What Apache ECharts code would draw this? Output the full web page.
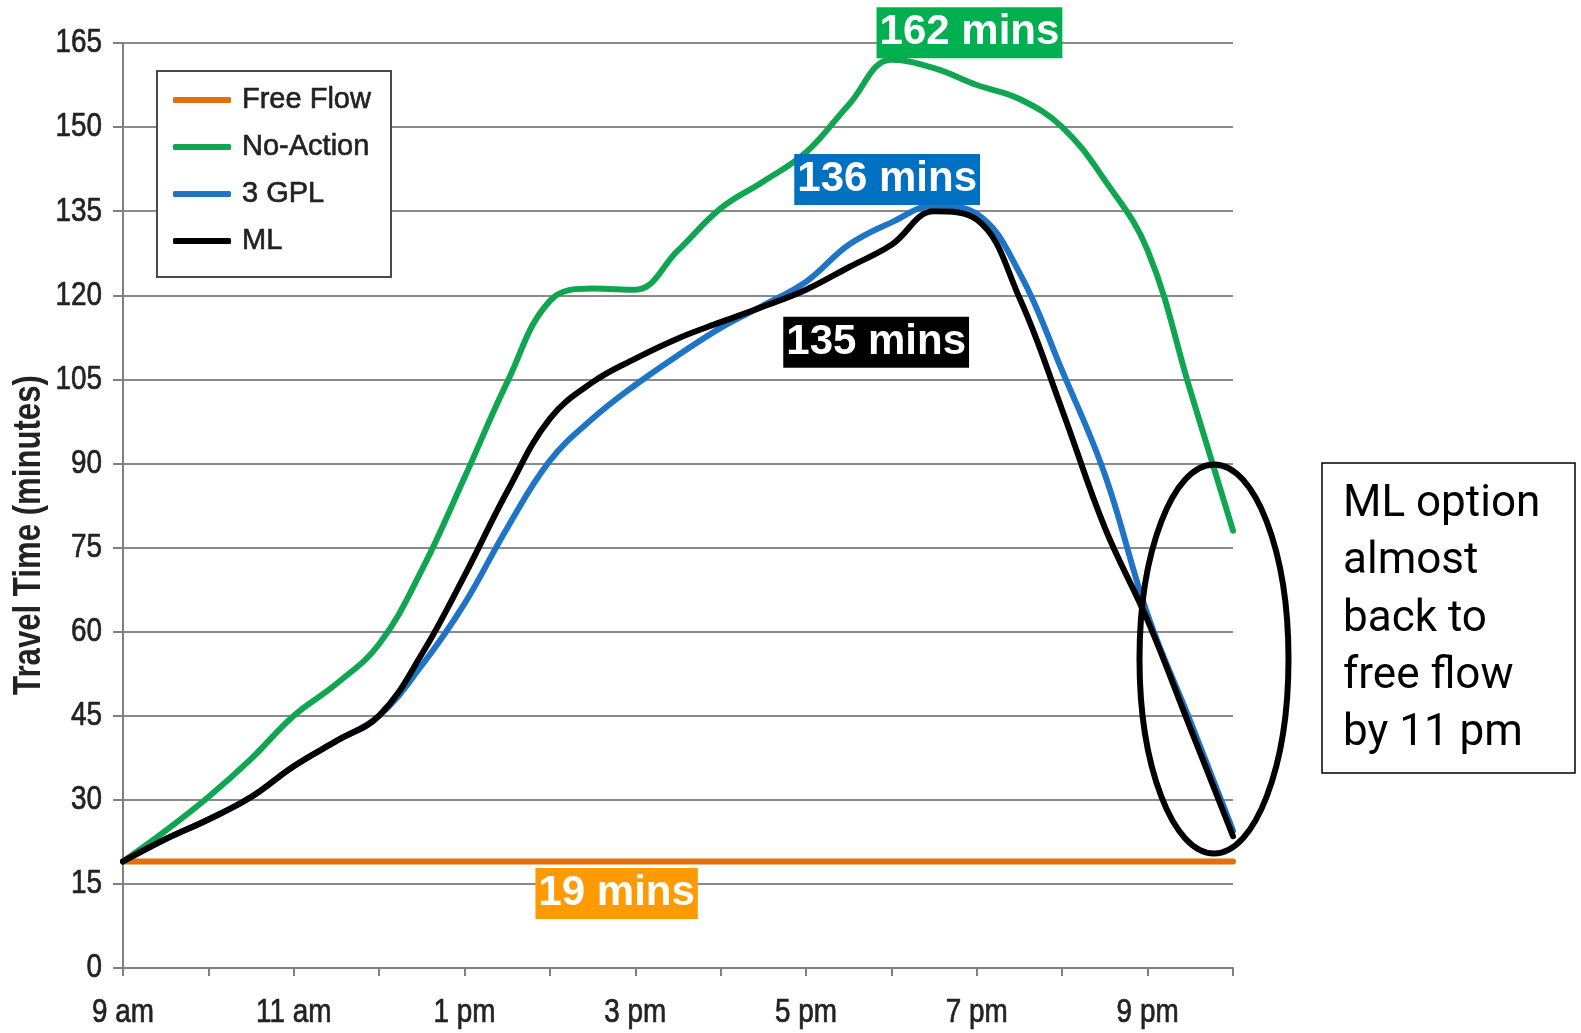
<!DOCTYPE html>
<html>
<head>
<meta charset="utf-8">
<title>Travel Time</title>
<script src="https://cdn.jsdelivr.net/npm/echarts@6/dist/echarts.min.js"></script>
<style>
  html, body { margin: 0; padding: 0; background: #fff; }
  #chart { width: 1581px; height: 1033px; }
</style>
</head>
<body>
<div id="chart"></div>
<script>
// Time of day in hours (9 = 9 am, 22 = 10 pm), sampled every half hour
const times = [9, 9.5, 10, 10.5, 11, 11.5, 12, 12.5, 13, 13.5, 14, 14.5, 15, 15.5,
               16, 16.5, 17, 17.5, 18, 18.5, 19, 19.5, 20, 20.5, 21, 21.5, 22];

// Travel time in minutes for each scenario
const noAction = [19, 24.5, 30.5, 37.3, 45, 50.7, 57.8, 71, 87.5, 104.5, 119, 121.2, 121, 128,
                  135.5, 140.3, 145.5, 154, 162, 160.5, 157.5, 155, 150, 140.5, 128, 103, 78];
const gpl3     = [19, 23, 26.5, 30.5, 36, 40.5, 45, 54, 65, 78.5, 90.5, 98, 104, 109.3,
                  114.2, 118.2, 122.4, 129, 133, 136, 134.5, 124, 106.5, 88, 63, 44, 24.5];
const ml       = [19, 23, 26.5, 30.5, 36, 40.5, 45, 56, 70, 85, 98, 104.5, 108.7, 112.3,
                  115.2, 118, 121, 125, 129, 135, 133.5, 119.5, 99.5, 78.5, 62, 42.8, 23.5];
const freeFlowTimes = [9, 22];
const freeFlow      = [19, 19];

// Axis tick labels
const yTickValues = [0, 15, 30, 45, 60, 75, 90, 105, 120, 135, 150, 165];
const tickHours   = [9, 11, 13, 15, 17, 19, 21];
const tickLabels  = ['9 am', '11 am', '1 pm', '3 pm', '5 pm', '7 pm', '9 pm'];

const seriesNames = ['Free Flow', 'No-Action', '3 GPL', 'ML'];
const noteLines = ['ML option', 'almost', 'back to', 'free flow', 'by 11 pm'];

const SANS = "'Liberation Sans', Arial, sans-serif";
const CONDENSE = 0.82;   // horizontal squeeze for the condensed axis lettering

function pairs(t, v) { return t.map((x, i) => [x, v[i]]); }
function peak(t, v) {
  const i = v.indexOf(Math.max.apply(null, v));
  return [t[i], v[i]];
}
function valueTag(coord, bg, offset) {
  return {
    symbol: 'rect',
    symbolSize: 0,
    silent: true,
    data: [{ coord: coord, value: coord[1] }],
    label: {
      show: true,
      position: 'inside',
      offset: offset,
      formatter: p => p.value + ' mins',
      color: '#fff',
      backgroundColor: bg,
      fontFamily: SANS,
      fontWeight: 'bold',
      fontSize: 42,
      lineHeight: 45,
      padding: [3, 3, 3, 3]
    }
  };
}

function lineSeries(name, data, color, z, tag) {
  return {
    name: name,
    type: 'line',
    data: data,
    smooth: 0.4,
    showSymbol: false,
    symbol: 'none',
    z: z,
    lineStyle: { color: color, width: 6, cap: 'round' },
    itemStyle: { color: color },
    emphasis: { disabled: true },
    markPoint: tag
  };
}

const chart = echarts.init(document.getElementById('chart'));

chart.setOption({
  animation: false,
  backgroundColor: '#fff',
  grid: { left: 123, right: 348, top: 43, bottom: 65 },
  legend: {
    orient: 'vertical',
    left: 173,
    top: 83,
    padding: 0,
    itemWidth: 58,
    itemHeight: 6,
    itemGap: 13,
    icon: 'roundRect',
    data: seriesNames,
    z: 5,
    textStyle: { fontFamily: SANS, fontSize: 29, lineHeight: 34, color: '#222',
                 padding: [0, 0, 0, 6], textBorderColor: '#222', textBorderWidth: 0.6 }
  },
  xAxis: {
    type: 'value',
    min: 9,
    max: 22,
    interval: 1,
    axisLine: { lineStyle: { color: '#808080', width: 2 } },
    axisTick: { show: true, length: 8, lineStyle: { color: '#808080', width: 2 } },
    splitLine: { show: false },
    axisLabel: { show: false }
  },
  yAxis: {
    type: 'value',
    min: 0,
    max: 165,
    interval: 15,
    axisLine: { show: true, lineStyle: { color: '#808080', width: 2 } },
    axisTick: { show: true, length: 10, lineStyle: { color: '#808080', width: 2 } },
    splitLine: { lineStyle: { color: '#8a8a8a', width: 2 } },
    axisLabel: { show: false }
  },
  series: [
    lineSeries('Free Flow', pairs(freeFlowTimes, freeFlow), '#E2700F', 2,
      valueTag([14.5, freeFlow[0]], '#FF9A00', [24, 32])),
    lineSeries('No-Action', pairs(times, noAction), '#10A550', 3,
      valueTag(peak(times, noAction), '#00B050', [78, -27])),
    lineSeries('3 GPL', pairs(times, gpl3), '#1F74C6', 4,
      valueTag(peak(times, gpl3), '#0070C0', [-47, -26])),
    lineSeries('ML', pairs(times, ml), '#000000', 5,
      valueTag(peak(times, ml), '#000000', [-58, 131]))
  ]
});

// Condensed tick labels, placed through the axes' own scales
const x0 = chart.convertToPixel({ xAxisIndex: 0 }, 9);
const yBase = chart.convertToPixel({ yAxisIndex: 0 }, 0);
const tickStyle = { fontFamily: SANS, fontSize: 34, fill: '#222', stroke: '#222', lineWidth: 0.7 };
const tickText = [];
yTickValues.forEach(v => {
  tickText.push({
    type: 'text', z: 3, silent: true, x: x0 - 21, y: chart.convertToPixel({ yAxisIndex: 0 }, v),
    scaleX: CONDENSE,
    style: Object.assign({ text: String(v), align: 'right', verticalAlign: 'middle' }, tickStyle)
  });
});
tickHours.forEach((h, i) => {
  tickText.push({
    type: 'text', z: 3, silent: true, x: chart.convertToPixel({ xAxisIndex: 0 }, h), y: yBase + 45,
    scaleX: CONDENSE,
    style: Object.assign({ text: tickLabels[i], align: 'center', verticalAlign: 'middle' }, tickStyle)
  });
});

chart.setOption({
  graphic: [
    // legend frame
    { type: 'rect', z: 3, silent: true,
      shape: { x: 157, y: 71, width: 234, height: 206 },
      style: { fill: '#fff', stroke: '#4a4a4a', lineWidth: 2 } },
    // axis title
    { type: 'text', z: 3, silent: true, x: 30, y: 535, rotation: Math.PI / 2, scaleX: CONDENSE,
      style: { text: 'Travel Time (minutes)', fontFamily: SANS, fontWeight: 'bold', fontSize: 38,
               fill: '#222', align: 'center', verticalAlign: 'middle' } },
    // circled end of the evening peak
    { type: 'ellipse', z: 10, silent: true,
      shape: { cx: 1214, cy: 659, rx: 74.5, ry: 194.5 },
      style: { fill: 'none', stroke: '#000', lineWidth: 6 } },
    // note box
    { type: 'rect', z: 3, silent: true,
      shape: { x: 1322, y: 463, width: 253, height: 310 },
      style: { fill: '#fff', stroke: '#000', lineWidth: 1.5 } }
  ].concat(noteLines.map((t, i) => ({
    type: 'text', z: 4, silent: true, x: 1343, y: 505 + i * 57.25,
    style: { text: t, fontFamily: "Roboto, 'Noto Sans', sans-serif", fontSize: 44,
             fill: '#000', align: 'left', verticalAlign: 'middle' }
  }))).concat(tickText)
});
</script>
</body>
</html>
